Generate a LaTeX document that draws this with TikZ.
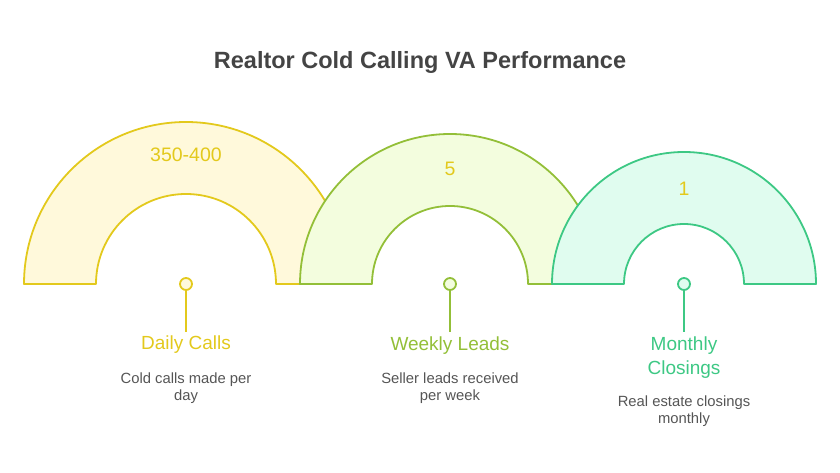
\documentclass[tikz,border=0pt]{standalone}
\usepackage{fontspec}
\setmainfont{Liberation Sans}
\usepackage{tikz}
\usetikzlibrary{positioning}
\definecolor{cyel}{HTML}{E3C91C}
\definecolor{cyelf}{HTML}{FFF9DB}
\definecolor{clime}{HTML}{93BF38}
\definecolor{climef}{HTML}{F3FDDE}
\definecolor{cgrn}{HTML}{3DC884}
\definecolor{cgrnf}{HTML}{E0FCEF}
\definecolor{ctext}{HTML}{555555}
\definecolor{ctitle}{HTML}{444444}

\begin{document}
\begin{tikzpicture}[
  x=1pt, y=1pt,
  arch/.style    = {draw=#1, line width=1.8pt, line join=round, fill=#1f},
  value/.style   = {text=cyel, font=\fontsize{19.5}{22}\selectfont},
  pinhead/.style = {circle, draw=#1, line width=1.8pt, fill=#1f,
                    inner sep=0pt, minimum size=12pt},
  stem/.style    = {draw=#1, line width=1.8pt},
  head/.style    = {text=#1, align=center, font=\fontsize{19}{24}\selectfont},
  desc/.style    = {text=ctext, align=center, font=\fontsize{14.8}{17.5}\selectfont},
]
\useasboundingbox (0,-189) rectangle (840,284);
% Title
\node[text=ctitle, font=\fontsize{23.5}{26}\selectfont\bfseries] (title) at (420,222)
  {Realtor Cold Calling VA Performance};
% Arches (later ones on top)
\draw[arch=cyel]  (24,0)  arc[start angle=180, end angle=0, radius=162]
                  -- (276,0) arc[start angle=0, end angle=180, radius=90] -- cycle;
\draw[arch=clime] (300,0) arc[start angle=180, end angle=0, radius=150]
                  -- (528,0) arc[start angle=0, end angle=180, radius=78] -- cycle;
\draw[arch=cgrn]  (552,0) arc[start angle=180, end angle=0, radius=132]
                  -- (744,0) arc[start angle=0, end angle=180, radius=60] -- cycle;
% Values
\node[value] (v1) at (186,129) {350-400};
\node[value] (v2) at (450,115) {5};
\node[value] (v3) at (684,95)  {1};
% Pins
\node[pinhead=cyel]  (p1) at (186,0) {};
\node[pinhead=clime] (p2) at (450,0) {};
\node[pinhead=cgrn]  (p3) at (684,0) {};
\coordinate (e1) at (186,-48);
\coordinate (e2) at (450,-48);
\coordinate (e3) at (684,-48);
\draw[stem=cyel]  (p1) -- (e1);
\draw[stem=clime] (p2) -- (e2);
\draw[stem=cgrn]  (p3) -- (e3);
% Headings
\node[head=cyel]  (h1) at (186,-61) {Daily Calls};
\node[head=clime] (h2) at (450,-62) {Weekly Leads};
\node[head=cgrn]  (h3) at (684,-74) {Monthly\\Closings};
% Descriptions
\node[desc] (d1) at (186,-104) {Cold calls made per\\day};
\node[desc] (d2) at (450,-104) {Seller leads received\\per week};
\node[desc] (d3) at (684,-127) {Real estate closings\\monthly};
\end{tikzpicture}
\end{document}
